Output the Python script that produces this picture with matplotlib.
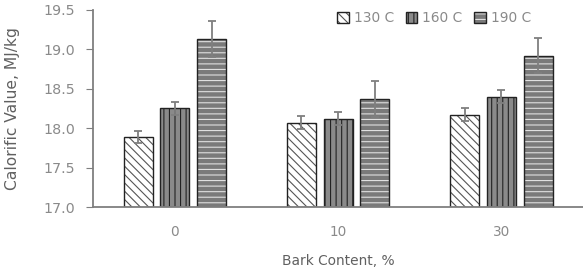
import numpy as np
import matplotlib
matplotlib.use("Agg")
import matplotlib.pyplot as plt

plt.rcParams['font.family'] = ['DejaVu Sans']
plt.rcParams['hatch.linewidth'] = 0.8

bark = ['0', '10', '30']
temps = ['130 C', '160 C', '190 C']
values = {
    '130 C': [17.89, 18.07, 18.17],
    '160 C': [18.25, 18.12, 18.40],
    '190 C': [19.13, 18.37, 18.92],
}
errors = {
    '130 C': [0.08, 0.08, 0.08],
    '160 C': [0.08, 0.08, 0.08],
    '190 C': [0.23, 0.23, 0.22],
}

grey = '#7f7f7f'
styles = {
    '130 C': dict(facecolor='white', hatch='\\\\\\\\', hatch_color='#555555'),
    '160 C': dict(facecolor='#8a8a8a', hatch='|||', hatch_color='#222222'),
    '190 C': dict(facecolor='#7a7a7a', hatch='---', hatch_color='#e0e0e0'),
}

fig = plt.figure(figsize=(5.83, 2.75), dpi=100)
ax = fig.add_axes([0.16, 0.247, 0.84, 0.717])

x = np.arange(len(bark))
width = 0.177
offset = 0.225
for i, t in enumerate(temps):
    st = styles[t]
    bars = ax.bar(x + (i - 1) * offset, np.array(values[t]) - 17.0, width, bottom=17.0,
                  facecolor=st['facecolor'], edgecolor='#222222', linewidth=1.0,
                  hatch=st['hatch'], label=t)
    for b in bars:
        b._hatch_color = matplotlib.colors.to_rgba(st['hatch_color'])
    ax.errorbar(x + (i - 1) * offset, values[t], yerr=errors[t], fmt='none',
                ecolor=grey, elinewidth=1.3, capsize=3, capthick=1.3)

ax.set_ylim(17.0, 19.5)
ax.set_xlim(-0.5, 2.5)
yt = np.arange(17.0, 19.51, 0.5)
ax.set_yticks(yt)
ax.set_yticklabels([f'{v:.1f}' for v in yt])
ax.set_xticks(x)
ax.set_xticklabels(bark)
ax.tick_params(axis='x', length=0, pad=13, labelcolor='#8a8a8a', labelsize=9.8)
ax.tick_params(axis='y', length=5, pad=8, color=grey, labelcolor='#8a8a8a', labelsize=10.3)
for s in ['top', 'right']:
    ax.spines[s].set_visible(False)
for s in ['left', 'bottom']:
    ax.spines[s].set_color(grey)
    ax.spines[s].set_linewidth(1.3)

ax.set_ylabel('Calorific Value, MJ/kg', fontsize=11.2, color='#606060', labelpad=17)
ax.set_xlabel('Bark Content, %', fontsize=9.9, color='#606060', labelpad=11)

leg = ax.legend(loc='upper left', bbox_to_anchor=(0.486, 1.02), ncol=3, frameon=False,
                borderaxespad=0, fontsize=9.9, handlelength=0.87, handleheight=0.8,
                handletextpad=0.35, columnspacing=0.86)
for txt in leg.get_texts():
    txt.set_color('#8a8a8a')

fig.savefig('out.png', dpi=100)
